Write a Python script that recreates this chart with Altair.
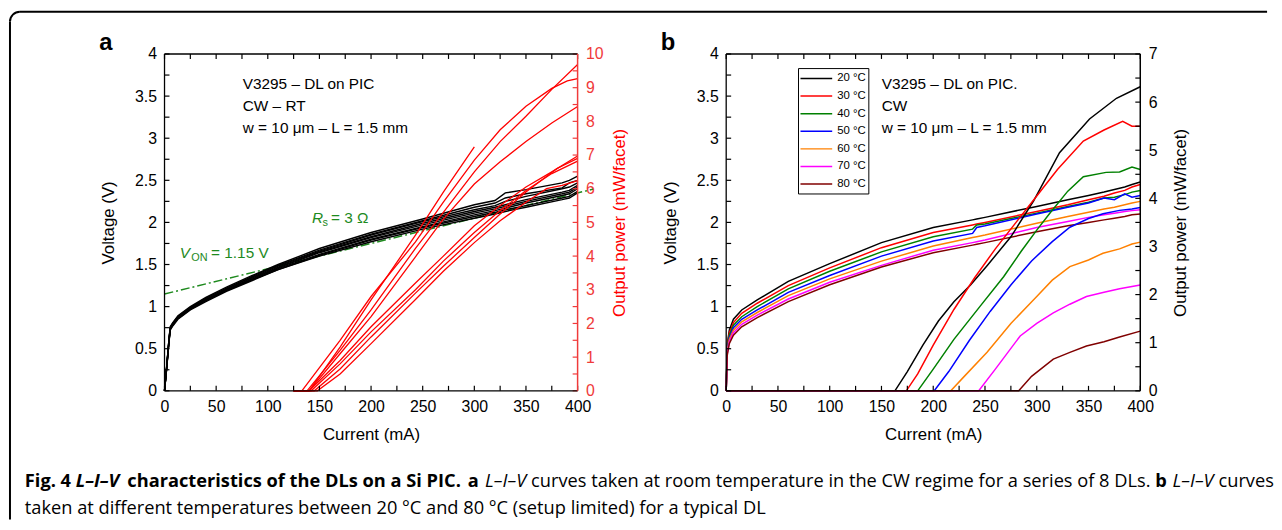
import altair as alt
import pandas as pd

FONT = "Liberation Sans"
CAP = "Open Sans"
RED = "#ff0000"
RED_AX = "#f03a3a"
GREEN = "#1e8a1e"

# ---------------- panel a : voltage of 8 DLs ----------------
IA_V = [0, 2, 4, 5.5, 8, 13, 25, 40, 60, 85, 110, 150, 200, 250, 300, 320, 330, 350, 385, 392, 400]
VA = [
    [0, 0.28, 0.57, 0.76, 0.81, 0.89, 1.00, 1.11, 1.23, 1.37, 1.50, 1.69, 1.88, 2.04, 2.21, 2.26, 2.35, 2.39, 2.47, 2.50, 2.55],
    [0, 0.28, 0.56, 0.75, 0.80, 0.88, 0.99, 1.10, 1.22, 1.36, 1.49, 1.67, 1.86, 2.02, 2.18, 2.23, 2.29, 2.34, 2.41, 2.47, 2.50],
    [0, 0.27, 0.56, 0.75, 0.80, 0.88, 0.99, 1.09, 1.21, 1.35, 1.48, 1.66, 1.85, 2.01, 2.15, 2.20, 2.25, 2.31, 2.40, 2.42, 2.47],
    [0, 0.27, 0.55, 0.74, 0.79, 0.87, 0.98, 1.08, 1.20, 1.34, 1.47, 1.65, 1.83, 1.99, 2.13, 2.18, 2.21, 2.27, 2.36, 2.38, 2.44],
    [0, 0.26, 0.55, 0.74, 0.79, 0.87, 0.98, 1.08, 1.20, 1.33, 1.46, 1.64, 1.82, 1.97, 2.11, 2.16, 2.19, 2.25, 2.34, 2.36, 2.42],
    [0, 0.26, 0.54, 0.73, 0.78, 0.86, 0.97, 1.07, 1.19, 1.32, 1.45, 1.62, 1.80, 1.95, 2.09, 2.14, 2.17, 2.23, 2.32, 2.34, 2.40],
    [0, 0.25, 0.54, 0.73, 0.78, 0.86, 0.97, 1.07, 1.19, 1.32, 1.44, 1.61, 1.79, 1.94, 2.07, 2.12, 2.15, 2.20, 2.29, 2.31, 2.37],
    [0, 0.25, 0.53, 0.72, 0.77, 0.85, 0.96, 1.06, 1.18, 1.31, 1.44, 1.60, 1.77, 1.92, 2.05, 2.10, 2.13, 2.18, 2.27, 2.29, 2.35],
]
# panel a : output power of 8 DLs (current, power)
LA_I = [
    [125, 138, 170, 200, 243, 270, 300, 325, 350, 375, 400],
    [125, 133, 170, 200, 243, 270, 300, 325, 350, 375, 390, 400],
    [125, 140, 170, 200, 243, 270, 300, 325, 350, 375, 400],
    [125, 140, 170, 200, 243, 270, 300],
    [125, 140, 170, 200, 243, 270, 300, 325, 350, 375, 400],
    [125, 142, 170, 200, 243, 270, 300, 325, 350, 375, 400],
    [125, 145, 170, 200, 243, 270, 300, 325, 350, 380, 400],
    [125, 148, 170, 200, 243, 270, 300, 325, 350, 370, 385, 400],
]
LA_P = [
    [0, 0, 1.2, 2.4, 4.23, 5.3, 6.5, 7.4, 8.15, 8.95, 9.69],
    [0, 0, 1.5, 2.8, 4.42, 5.6, 6.85, 7.75, 8.45, 8.98, 9.2, 9.27],
    [0, 0, 1.1, 2.2, 3.98, 5.1, 6.14, 6.8, 7.4, 7.95, 8.44],
    [0, 0, 1.3, 2.7, 4.62, 5.9, 7.24],
    [0, 0, 0.9, 1.9, 3.2, 4.0, 4.9, 5.5, 6.05, 6.5, 6.97],
    [0, 0, 0.8, 1.75, 3.0, 3.85, 4.7, 5.35, 5.95, 6.45, 6.82],
    [0, 0, 0.65, 1.6, 2.9, 3.7, 4.55, 5.25, 5.9, 6.6, 6.9],
    [0, 0, 0.5, 1.4, 2.71, 3.55, 4.4, 5.05, 5.6, 6.0, 6.1, 6.24],
]
# series-resistance fit line  V_ON = 1.15 V, R_s = 3 ohm
FIT_I = [0, 415]
FIT_V = [1.15, 2.395]

# ---------------- panel b : one DL at 7 temperatures ----------------
TEMPS = ["20 °C", "30 °C", "40 °C", "50 °C", "60 °C", "70 °C", "80 °C"]
COLORS = ["#000000", "#ff0000", "#008000", "#0000ff", "#ff8000", "#ff00ff", "#800000"]
IB_V = [0, 1, 3, 7, 15, 30, 60, 100, 150, 200, 238, 242, 250, 300, 330, 350, 365, 375, 385, 392, 400]
VB = [
    [0, 0.55, 0.72, 0.85, 0.96, 1.08, 1.30, 1.51, 1.76, 1.94, 2.03, 2.04, 2.06, 2.19, 2.27, 2.32, 2.36, 2.39, 2.42, 2.45, 2.48],
    [0, 0.52, 0.69, 0.81, 0.92, 1.04, 1.25, 1.46, 1.70, 1.88, 1.97, 1.98, 2.00, 2.13, 2.21, 2.27, 2.31, 2.35, 2.38, 2.42, 2.45],
    [0, 0.50, 0.66, 0.78, 0.88, 1.00, 1.21, 1.42, 1.65, 1.83, 1.92, 1.97, 1.98, 2.11, 2.19, 2.24, 2.29, 2.30, 2.33, 2.36, 2.38],
    [0, 0.48, 0.63, 0.75, 0.85, 0.96, 1.17, 1.37, 1.60, 1.78, 1.87, 1.94, 1.96, 2.10, 2.18, 2.23, 2.29, 2.27, 2.34, 2.30, 2.32],
    [0, 0.46, 0.61, 0.72, 0.82, 0.93, 1.13, 1.33, 1.54, 1.72, 1.82, 1.83, 1.85, 1.99, 2.07, 2.12, 2.16, 2.18, 2.21, 2.23, 2.25],
    [0, 0.44, 0.58, 0.69, 0.79, 0.90, 1.09, 1.29, 1.49, 1.67, 1.76, 1.77, 1.79, 1.94, 2.01, 2.06, 2.09, 2.11, 2.13, 2.14, 2.15],
    [0, 0.42, 0.56, 0.66, 0.76, 0.87, 1.06, 1.26, 1.47, 1.64, 1.73, 1.74, 1.76, 1.89, 1.96, 2.00, 2.03, 2.05, 2.07, 2.09, 2.10],
]
LB_I = [
    [0, 163, 175, 190, 205, 220, 236, 252, 275, 297, 322, 351, 377, 400],
    [0, 174, 185, 200, 220, 240, 260, 280, 300, 320, 345, 365, 383, 392, 400],
    [0, 185, 200, 220, 245, 268, 285, 300, 313, 330, 345, 367, 380, 392, 400],
    [0, 201, 215, 235, 255, 275, 295, 315, 332, 350, 364, 380, 392, 400],
    [0, 217, 230, 252, 275, 300, 315, 332, 350, 364, 380, 392, 400],
    [0, 244, 260, 284, 300, 316, 332, 348, 365, 380, 400],
    [0, 282.6, 295, 316, 332, 348, 365, 380, 400],
]
LB_P = [
    [0, 0, 0.4, 0.95, 1.45, 1.85, 2.2, 2.6, 3.2, 3.95, 4.95, 5.65, 6.08, 6.32],
    [0, 0, 0.35, 0.95, 1.69, 2.35, 2.95, 3.5, 4.05, 4.6, 5.19, 5.42, 5.6, 5.5, 5.5],
    [0, 0, 0.45, 1.07, 1.75, 2.37, 2.9, 3.34, 3.7, 4.15, 4.45, 4.54, 4.55, 4.65, 4.6],
    [0, 0, 0.4, 1.05, 1.65, 2.2, 2.7, 3.1, 3.40, 3.58, 3.68, 3.75, 3.78, 3.81],
    [0, 0, 0.3, 0.8, 1.4, 1.96, 2.3, 2.58, 2.72, 2.86, 2.95, 3.05, 3.09],
    [0, 0, 0.45, 1.14, 1.4, 1.62, 1.8, 1.96, 2.05, 2.12, 2.20],
    [0, 0, 0.3, 0.66, 0.8, 0.93, 1.02, 1.12, 1.24],
]

# tick values
X_LABELS = list(range(0, 401, 50))
X_TICKS = list(range(0, 401, 25))
V_LABELS = [0, 0.5, 1, 1.5, 2, 2.5, 3, 3.5, 4]
V_TICKS = [i * 0.25 for i in range(17)]
PA_LABELS = list(range(0, 11))
PA_TICKS = [i * 0.5 for i in range(21)]
PB_LABELS = list(range(0, 8))
PB_TICKS = [i * 0.5 for i in range(15)]

# ---------------- tables ----------------
va_df = pd.DataFrame([{"I": i, "V": v, "c": k} for k, vs in enumerate(VA) for i, v in zip(IA_V, vs)])
la_df = pd.DataFrame([{"I": i, "P": p, "c": k} for k, (is_, ps) in enumerate(zip(LA_I, LA_P)) for i, p in zip(is_, ps)])
fit_df = pd.DataFrame({"I": FIT_I, "V": FIT_V})
vb_df = pd.DataFrame([{"I": i, "V": v, "T": TEMPS[k]} for k, vs in enumerate(VB) for i, v in zip(IB_V, vs)])
lb_df = pd.DataFrame([{"I": i, "P": p, "T": TEMPS[k]} for k, (is_, ps) in enumerate(zip(LB_I, LB_P)) for i, p in zip(is_, ps)])
xt_df = pd.DataFrame({"t": X_TICKS})
vt_df = pd.DataFrame({"t": V_TICKS})
pat_df = pd.DataFrame({"t": PA_TICKS})
pbt_df = pd.DataFrame({"t": PB_TICKS})
leg_df = pd.DataFrame({"T": TEMPS})
one = pd.DataFrame({"k": [0]})

W_A, W_B, H = 417, 418, 340
TK = 5

xs = alt.Scale(domain=[0, 400], nice=False, zero=False)
vs_ = alt.Scale(domain=[0, 4], nice=False)
pas = alt.Scale(domain=[0, 10], nice=False)
pbs = alt.Scale(domain=[0, 7], nice=False)
cs = alt.Scale(domain=TEMPS, range=COLORS)

AX = dict(ticks=False, grid=False, domain=False, labelFontSize=16, titleFontSize=17, titleFontWeight="normal",
          labelFont=FONT, titleFont=FONT, labelFlush=False, labelOverlap=False)
x_axis = alt.Axis(values=X_LABELS, title="Current (mA)", labelPadding=8, titlePadding=12,
                  labelColor="black", titleColor="black", **AX)
yl_axis = alt.Axis(values=V_LABELS, title="Voltage (V)", format="~g", labelPadding=8, titlePadding=17,
                   labelColor="black", titleColor="black", **AX)
yra_axis = alt.Axis(values=PA_LABELS, title="Output power (mW/facet)", orient="right", labelPadding=8,
                    titlePadding=9, titleAngle=270, titleBaseline="top", labelColor=RED_AX, titleColor=RED, **AX)
yrb_axis = alt.Axis(values=PB_LABELS, title="Output power (mW/facet)", orient="right", labelPadding=8,
                    titlePadding=16, titleAngle=270, titleBaseline="top", labelColor="black",
                    titleColor="black", **AX)

X = alt.X("I:Q", scale=xs, axis=x_axis)


def txt(s, x, y, size=15.5, color="black", weight="normal", style="normal", font=FONT, align="left"):
    return alt.Chart(one).mark_text(text=s, font=font, fontSize=size, color=color, fontWeight=weight,
                                    fontStyle=style, align=align, baseline="alphabetic").encode(
        x=alt.value(x), y=alt.value(y))


def box(w, right_color="black"):
    c = dict(strokeWidth=1.3)
    return [
        alt.Chart(one).mark_rule(color="black", **c).encode(x=alt.value(0), x2=alt.value(w), y=alt.value(0)),
        alt.Chart(one).mark_rule(color="black", **c).encode(x=alt.value(0), x2=alt.value(w), y=alt.value(H)),
        alt.Chart(one).mark_rule(color="black", **c).encode(x=alt.value(0), y=alt.value(0), y2=alt.value(H)),
        alt.Chart(one).mark_rule(color=right_color, strokeWidth=1.5).encode(
            x=alt.value(w), y=alt.value(0), y2=alt.value(H)),
    ]


def ticks_xl():
    tx = alt.X("t:Q", scale=xs, axis=x_axis)
    return [
        alt.Chart(xt_df).mark_rule(color="black", strokeWidth=1.2).encode(x=tx, y=alt.value(H), y2=alt.value(H - TK)),
        alt.Chart(xt_df).mark_rule(color="black", strokeWidth=1.2).encode(x=tx, y=alt.value(0), y2=alt.value(TK)),
        alt.Chart(vt_df).mark_rule(color="black", strokeWidth=1.2).encode(
            y=alt.Y("t:Q", scale=vs_, axis=None), x=alt.value(0), x2=alt.value(TK)),
    ]


# ---------------- panel a ----------------
blk = alt.Chart(va_df).mark_line(color="black", strokeWidth=1.4).encode(
    x=X, y=alt.Y("V:Q", scale=vs_, axis=yl_axis), detail="c:N")
fit = alt.Chart(fit_df).mark_line(color=GREEN, strokeWidth=1.5, strokeDash=[9, 3, 2, 3]).encode(
    x=X, y=alt.Y("V:Q", scale=vs_, axis=None))
red = alt.Chart(la_df).mark_line(color=RED, strokeWidth=1.3).encode(
    x=X, y=alt.Y("P:Q", scale=pas, axis=yra_axis), detail="c:N")
rticks_a = alt.Chart(pat_df).mark_rule(color=RED_AX, strokeWidth=1.2).encode(
    y=alt.Y("t:Q", scale=pas, axis=None), x=alt.value(W_A - TK), x2=alt.value(W_A))

# frame around the whole figure (positions relative to panel a plot area)
frame = [
    alt.Chart(one).mark_rule(color="black", strokeWidth=2).encode(
        x=alt.value(-146), x2=alt.value(1113), y=alt.value(-42.7)),
    alt.Chart(one).mark_rule(color="black", strokeWidth=2).encode(
        x=alt.value(-156), y=alt.value(-32.7), y2=alt.value(470)),
    alt.Chart(one).mark_arc(color="black", radius=11, radius2=9, theta=4.712389, theta2=6.283185).encode(
        x=alt.value(-146), y=alt.value(-32.7)),
]

CS = 18.4            # caption font size
Y1, Y2 = 437, 464    # caption baselines
O = 166              # page x of panel a plot origin
caption = [
    txt("Fig. 4", 25 - O, Y1, CS, weight="bold", font=CAP),
    txt("L–I–V", 76.5 - O, Y1, CS, weight="bold", style="italic", font=CAP),
    txt("characteristics of the DLs on a Si PIC.", 128.5 - O, Y1, CS, weight="bold", font=CAP),
    txt("a", 472 - O, Y1, CS, weight="bold", font=CAP),
    txt("L–I–V", 489.5 - O, Y1, CS, style="italic", font=CAP),
    txt("curves taken at room temperature in the CW regime for a series of 8 DLs.", 536 - O, Y1, CS, font=CAP),
    txt("b", 1166 - O, Y1, CS, weight="bold", font=CAP),
    txt("L–I–V", 1183.5 - O, Y1, CS, style="italic", font=CAP),
    txt("curves", 1230 - O, Y1, CS, font=CAP),
    txt("taken at different temperatures between 20 °C and 80 °C (setup limited) for a typical DL",
        25 - O, Y2, CS, font=CAP),
]

annot_a = [
    txt("a", -66, -4, 24, weight="bold"),
    txt("V3295 – DL on PIC", 79, 35),
    txt("CW – RT", 79, 58),
    txt("w = 10 μm – L = 1.5 mm", 79, 80),
    txt("R", 149, 170.7, 15.5, color=GREEN, style="italic"),
    txt("s", 159.5, 174, 11, color=GREEN),
    txt("= 3 Ω", 168, 170.7, 15.5, color=GREEN),
    txt("V", 15.5, 205.7, 15.5, color=GREEN, style="italic"),
    txt("ON", 27, 209, 11, color=GREEN),
    txt("= 1.15 V", 47, 205.7, 15.5, color=GREEN),
]

panel_a = alt.layer(
    fit, blk, red, rticks_a, *ticks_xl(), *box(W_A, RED_AX), *annot_a, *frame, *caption
).resolve_scale(y="independent").properties(width=W_A, height=H)

# ---------------- panel b ----------------
vcur = alt.Chart(vb_df).mark_line(strokeWidth=1.5).encode(
    x=X, y=alt.Y("V:Q", scale=vs_, axis=yl_axis), color=alt.Color("T:N", scale=cs, legend=None))
lcur = alt.Chart(lb_df).mark_line(strokeWidth=1.5).encode(
    x=X, y=alt.Y("P:Q", scale=pbs, axis=yrb_axis), color=alt.Color("T:N", scale=cs, legend=None))
rticks_b = alt.Chart(pbt_df).mark_rule(color="black", strokeWidth=1.2).encode(
    y=alt.Y("t:Q", scale=pbs, axis=None), x=alt.value(W_B - TK), x2=alt.value(W_B))

annot_b = [
    txt("b", -66, -4, 24, weight="bold"),
    txt("V3295 – DL on PIC.", 157, 35),
    txt("CW", 157, 58),
    txt("w = 10 μm – L = 1.5 mm", 157, 80),
]

leg_scale = alt.Scale(type="point", domain=TEMPS, range=[24.7, 131.3], padding=0)
leg_box = alt.Chart(one).mark_rect(fill="white", stroke="black", strokeWidth=1).encode(
    x=alt.value(73), x2=alt.value(144), y=alt.value(14.7), y2=alt.value(141.3))
leg_lines = alt.Chart(leg_df).mark_rule(strokeWidth=1.5).encode(
    y=alt.Y("T:N", scale=leg_scale, axis=None), x=alt.value(75), x2=alt.value(107),
    color=alt.Color("T:N", scale=cs, legend=None))
leg_text = alt.Chart(leg_df).mark_text(font=FONT, fontSize=11.5, align="left", baseline="middle",
                                       color="black").encode(
    y=alt.Y("T:N", scale=leg_scale, axis=None), x=alt.value(112), text="T:N")

panel_b = alt.layer(
    vcur, lcur, rticks_b, *ticks_xl(), *box(W_B), *annot_b, leg_box, leg_lines, leg_text
).resolve_scale(y="independent").properties(width=W_B, height=H)

chart = alt.hconcat(panel_a, panel_b, spacing=150, bounds="flush").properties(
    padding={"left": 1, "top": 0, "right": 0, "bottom": 0}, background="white"
).configure_view(strokeWidth=0, stroke=None)

chart.save("out.html", embed_options={"renderer": "svg", "actions": False})
